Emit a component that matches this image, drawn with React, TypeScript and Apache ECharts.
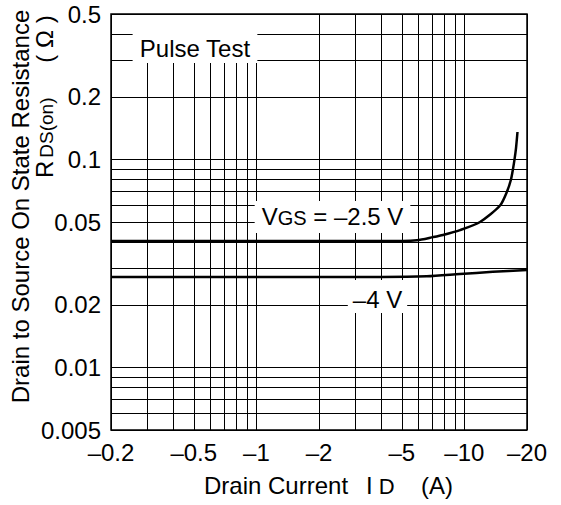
import React, { useEffect, useRef } from 'react';
import * as echarts from 'echarts';

// Axis ticks (magnitudes; drawn with a leading dash on the current axis)
const xTickValues = [0.2, 0.5, 1, 2, 5, 10, 20];
const yTickValues = [0.005, 0.01, 0.02, 0.05, 0.1, 0.2, 0.5];
const xGridValues = [0.2, 0.3, 0.4, 0.5, 0.6, 0.7, 0.8, 0.9, 1, 2, 3, 4, 5, 6, 7, 8, 9, 10, 20];
const yGridValues = [0.005, 0.006, 0.007, 0.008, 0.009, 0.01, 0.02, 0.03, 0.04, 0.05, 0.06, 0.07, 0.08, 0.09, 0.1, 0.2, 0.3, 0.4, 0.5];

// VGS = -2.5 V curve: |ID| (A), RDS(on) (ohm)
const idVgs25 = [0.2, 0.5, 1, 2, 3, 4.06, 5.92, 7.07, 7.89, 9.53, 11.89, 14.84, 16.03, 16.75, 17.13, 17.42, 17.71, 18.0];
const rdsVgs25 = [0.0405, 0.0405, 0.0405, 0.0405, 0.0405, 0.0405, 0.0409, 0.0423, 0.0433, 0.0457, 0.05, 0.06, 0.07, 0.08, 0.09, 0.1, 0.1134, 0.1354];

// VGS = -4 V curve
const idVgs4 = [0.2, 1, 4, 6.6, 9.5, 13.7, 20];
const rdsVgs4 = [0.0272, 0.0272, 0.0272, 0.0274, 0.0281, 0.0288, 0.0294];

const FONT = '"Liberation Sans", Arial, Helvetica, sans-serif';
const FS = 24;
const lg = (v: number) => Math.log10(v);
const fmt = (v: number) => String(Number(Math.pow(10, v).toPrecision(3)));

const richBase = {
  n: { fontSize: FS, lineHeight: 24, fontFamily: FONT, color: '#000' },
  s: { fontSize: 20, lineHeight: 10, verticalAlign: 'bottom', fontFamily: FONT, color: '#000' },
};

export default function App() {
  const ref = useRef<HTMLDivElement>(null);
  useEffect(() => {
    if (!ref.current) return;
    const chart = echarts.init(ref.current, null, { renderer: 'svg' });
    const axisCommon = {
      type: 'value' as const,
      axisLine: { show: false },
      splitLine: { show: true, lineStyle: { color: '#000', width: 1 } },
    };
    chart.setOption({
      animation: false,
      backgroundColor: '#fff',
      grid: { left: 111, top: 14, width: 416, height: 416, show: true, borderColor: '#000', borderWidth: 1.5, backgroundColor: 'transparent' },
      xAxis: {
        ...axisCommon,
        min: lg(0.2),
        max: lg(20),
        axisTick: { show: false, customValues: xGridValues.map(lg) },
        axisLabel: {
          customValues: xTickValues.map(lg),
          formatter: (v: number) => '\u2013' + fmt(v),
          margin: 10,
          fontSize: FS,
          fontFamily: FONT,
          color: '#000',
        },
      },
      yAxis: {
        ...axisCommon,
        min: lg(0.005),
        max: lg(0.5),
        axisTick: { show: false, customValues: yGridValues.map(lg) },
        axisLabel: {
          customValues: yTickValues.map(lg),
          formatter: (v: number) => fmt(v),
          margin: 10,
          fontSize: FS,
          fontFamily: FONT,
          color: '#000',
        },
      },
      series: [
        {
          type: 'line',
          data: idVgs25.map((v, i) => [lg(v), lg(rdsVgs25[i])]),
          showSymbol: false,
          smooth: 0.25,
          lineStyle: { color: '#000', width: 2.5 },
          silent: true,
          z: 3,
          markPoint: {
            silent: true,
            symbol: 'circle',
            symbolSize: 0,
            itemStyle: { color: 'transparent' },
            data: [
              {
                coord: [lg(0.5068), lg(0.3791)],
                label: {
                  show: true, position: 'inside', formatter: '{n|Pulse Test}',
                  backgroundColor: '#fff', padding: [21, 7, 3, 7], rich: richBase,
                },
              },
              {
                coord: [lg(2.3225), lg(0.05284)],
                label: {
                  show: true, position: 'inside', formatter: '{n|V}{s|GS}{n| = \u20132.5 V}',
                  backgroundColor: '#fff', padding: [3, 7, 5, 7], rich: richBase,
                },
              },
              {
                coord: [lg(3.822), lg(0.02192)],
                label: {
                  show: true, position: 'inside', formatter: '{n|\u20134 V}',
                  backgroundColor: '#fff', padding: [7.5, 5, 1.5, 5], rich: richBase,
                },
              },
            ],
          },
        },
        {
          type: 'line',
          data: idVgs4.map((v, i) => [lg(v), lg(rdsVgs4[i])]),
          showSymbol: false,
          smooth: 0.25,
          lineStyle: { color: '#000', width: 2.5 },
          silent: true,
          z: 3,
        },
      ],
      graphic: [
        {
          type: 'text', x: 20, y: 206.5, rotation: Math.PI / 2, silent: true,
          style: {
            text: 'Drain to Source On State Resistance', fontSize: FS, fontFamily: FONT, fill: '#000',
            align: 'center', verticalAlign: 'middle', textAlign: 'center', textVerticalAlign: 'middle',
          },
        },
        {
          type: 'text', x: 44, y: 178, rotation: Math.PI / 2, silent: true,
          style: {
            text: '{n|R}{s|DS(on)}', fill: '#000',
            align: 'left', verticalAlign: 'middle', textAlign: 'left', textVerticalAlign: 'middle',
            rich: {
              n: { fontSize: FS, lineHeight: 24, fontFamily: FONT, fill: '#000' },
              s: { fontSize: 19, lineHeight: 14, verticalAlign: 'bottom', fontFamily: FONT, fill: '#000', padding: [0, 0, 0, 3] },
            },
          },
        },
        {
          type: 'text', x: 44, y: 39, rotation: Math.PI / 2, silent: true,
          style: {
            text: '( \u03A9 )', fontSize: FS, fontFamily: FONT, fill: '#000',
            align: 'center', verticalAlign: 'middle', textAlign: 'center', textVerticalAlign: 'middle',
          },
        },
        {
          type: 'text', x: 204, y: 485.5, silent: true,
          style: {
            text: 'Drain Current', fontSize: FS, fontFamily: FONT, fill: '#000',
            align: 'left', verticalAlign: 'middle', textAlign: 'left', textVerticalAlign: 'middle',
          },
        },
        {
          type: 'text', x: 366, y: 485.5, silent: true,
          style: {
            text: '{n|I}{s| D}', fill: '#000',
            align: 'left', verticalAlign: 'middle', textAlign: 'left', textVerticalAlign: 'middle',
            rich: {
              n: { fontSize: FS, lineHeight: 24, fontFamily: FONT, fill: '#000' },
              s: { fontSize: 22, lineHeight: 12, verticalAlign: 'bottom', fontFamily: FONT, fill: '#000' },
            },
          },
        },
        {
          type: 'text', x: 421, y: 485.5, silent: true,
          style: {
            text: '(A)', fontSize: FS, fontFamily: FONT, fill: '#000',
            align: 'left', verticalAlign: 'middle', textAlign: 'left', textVerticalAlign: 'middle',
          },
        },
      ],
    });
    return () => chart.dispose();
  }, []);
  return <div ref={ref} style={{ position: 'absolute', left: 0, top: 0, width: 561, height: 505 }} />;
}
